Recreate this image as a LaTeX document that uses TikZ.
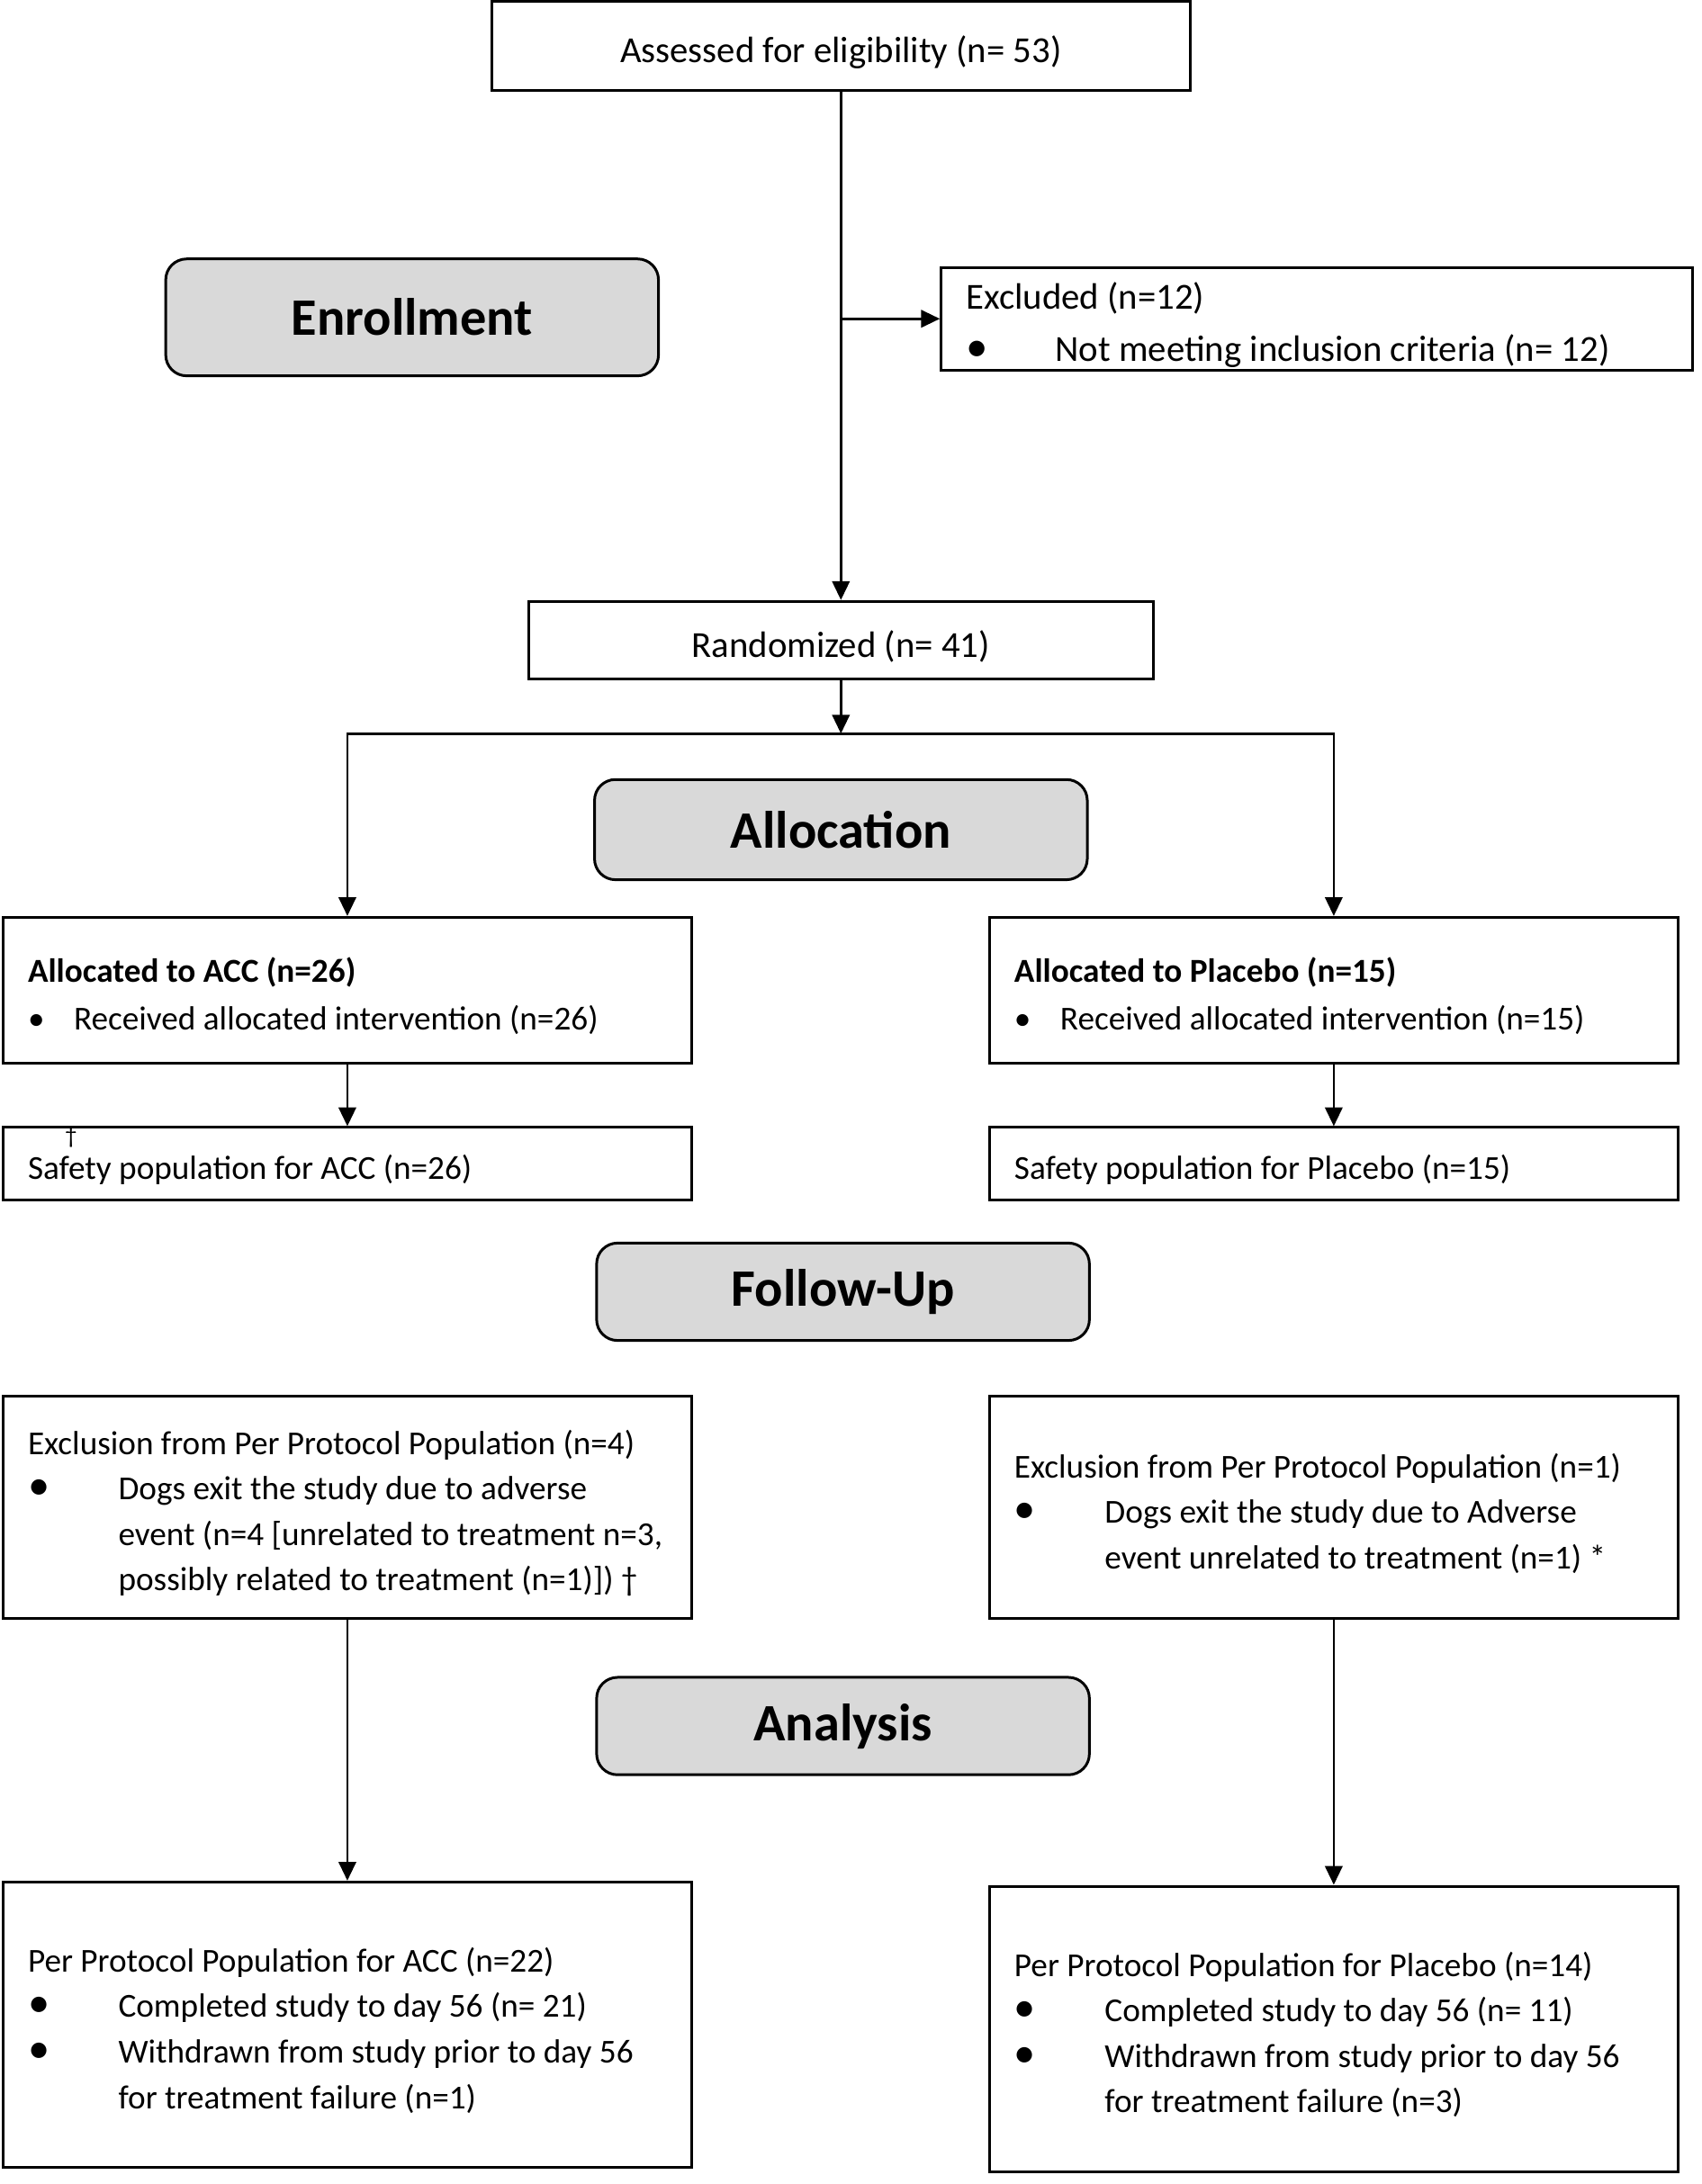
\documentclass[tikz,border=0pt]{standalone}
\usepackage{fontspec}
\setmainfont{Carlito}
\usetikzlibrary{arrows.meta,positioning}
\definecolor{stagegray}{RGB}{217,217,217}
\newcommand{\bul}[2][1]{\makebox[#2][l]{\scalebox{#1}{\textbullet}}}
\tikzset{
  box/.style={draw=black, line width=1.1pt, fill=white, inner xsep=0.36cm, inner ysep=0pt,
    align=flush left, font=\fontsize{13.7}{18.6}\selectfont,
    execute at begin node={\rule{0pt}{1.07em}}},
  side/.style={box, minimum width=9.9cm, text width=9.18cm},
  topbox/.style={box, align=center, font=\fontsize{15}{18}\selectfont},
  stage/.style={draw=black, line width=1.1pt, fill=stagegray, rounded corners=0.3cm,
    minimum width=7.08cm, font=\fontsize{21.5}{26}\selectfont\bfseries},
  arr/.style={line width=1pt, -{Triangle[length=2.7mm,width=2.5mm]}}
}
\begin{document}
\begin{tikzpicture}[x=0.02cm,y=-0.02cm]
	%%%%% START %%%%%
	\useasboundingbox (0,0) rectangle (1222,1569);

	\node[topbox, minimum width=10.04cm, minimum height=1.28cm] (assess) at (604,33) {Assessed for eligibility (n= 53)};
	\node[stage, minimum height=1.68cm] (enroll) at (296,228) {Enrollment};
	\node[box, text width=10.08cm, minimum height=1.48cm, font=\fontsize{15}{21.6}\selectfont] (excl) at (946,229)
		{Excluded (n=12)\\\bul[1.2]{1.28cm}Not meeting inclusion criteria (n= 12)};
	\node[topbox, minimum width=8.98cm, minimum height=1.12cm] (rand) at (604,460) {Randomized (n= 41)};

	\node[stage, minimum height=1.44cm] (alloc) at (604,596) {Allocation};
	\node[side, minimum height=2.1cm] (acc) at (249.5,711.5)
		{\textbf{Allocated to ACC (n=26)}\\[0.7pt]\bul{0.66cm}Received allocated intervention (n=26)};
	\node[side, minimum height=2.1cm] (plc) at (958,711.5)
		{\textbf{Allocated to Placebo (n=15)}\\[0.7pt]\bul{0.66cm}Received allocated intervention (n=15)};
	\node[side, minimum height=1.04cm] (sacc) at (249.5,836) {Safety population for ACC (n=26)};
	\node[side, minimum height=1.04cm] (splc) at (958,836) {Safety population for Placebo (n=15)};
	\node[font=\fontsize{10}{12}\selectfont, inner sep=0pt] (sdag) at (51,817) {\textdagger};

	\node[stage, minimum height=1.4cm] (follow) at (605.5,928) {Follow-Up};
	\node[side, minimum height=3.2cm] (xacc) at (249.5,1083)
		{Exclusion from Per Protocol Population (n=4)\\
		\bul[1.3]{1.3cm}Dogs exit the study due to adverse\\
		\hspace*{1.3cm}event (n=4 [unrelated to treatment n=3,\\
		\hspace*{1.3cm}possibly related to treatment (n=1)]) \textdagger};
	\node[side, minimum height=3.2cm] (xplc) at (958,1083)
		{Exclusion from Per Protocol Population (n=1)\\
		\bul[1.3]{1.3cm}Dogs exit the study due to Adverse\\
		\hspace*{1.3cm}event unrelated to treatment (n=1) *};

	\node[stage, minimum height=1.4cm] (analysis) at (605.5,1240) {Analysis};
	\node[side, minimum height=4.1cm] (pacc) at (249.5,1454.5)
		{Per Protocol Population for ACC (n=22)\\
		\bul[1.3]{1.3cm}Completed study to day 56 (n= 21)\\
		\bul[1.3]{1.3cm}Withdrawn from study prior to day 56\\
		\hspace*{1.3cm}for treatment failure (n=1)};
	\node[side, minimum height=4.1cm] (pplc) at (958,1457.5)
		{Per Protocol Population for Placebo (n=14)\\
		\bul[1.3]{1.3cm}Completed study to day 56 (n= 11)\\
		\bul[1.3]{1.3cm}Withdrawn from study prior to day 56\\
		\hspace*{1.3cm}for treatment failure (n=3)};

	% connectors
	\coordinate (split) at (604,527);
	\draw[arr] (assess) -- (rand);
	\draw[arr] (assess.south |- excl.west) -- (excl.west);
	\draw[arr] (rand) -- (split);
	\draw[arr] (split) -| (acc);
	\draw[arr] (split) -| (plc);
	\draw[arr] (acc) -- (sacc);
	\draw[arr] (plc) -- (splc);
	\draw[arr] (xacc) -- (pacc);
	\draw[arr] (xplc) -- (pplc);
	%%%%% END %%%%%
\end{tikzpicture}
\end{document}
